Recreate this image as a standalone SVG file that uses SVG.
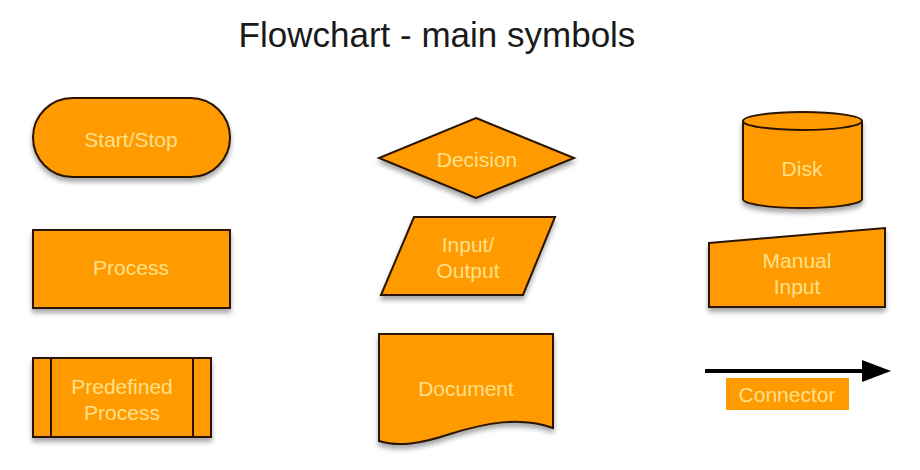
<svg xmlns="http://www.w3.org/2000/svg" width="920" height="470" viewBox="0 0 920 470">
<defs>
<filter id="sh" x="-10%" y="-10%" width="120%" height="130%">
<feDropShadow dx="0" dy="4" stdDeviation="2.5" flood-color="#000" flood-opacity="0.35"/>
</filter>
<marker id="ah" viewBox="0 0 10 10" refX="0" refY="5" markerWidth="29" markerHeight="22" markerUnits="userSpaceOnUse" orient="auto" preserveAspectRatio="none">
<path d="M0,0 L10,5 L0,10 Z" fill="#000"/>
</marker>
<style>
.s{fill:#ff9a00;stroke:#2a1300;stroke-width:2;filter:url(#sh)}
.l{fill:none;stroke:#2a1300;stroke-width:2}
.t{font-family:"Liberation Sans",Arial,sans-serif;font-size:21px;fill:#ffe08a;text-anchor:middle}
.title{font-family:"Liberation Sans",Arial,sans-serif;font-size:35px;fill:#1a1a1a;text-anchor:middle}
</style>
</defs>
<rect width="920" height="470" fill="#ffffff"/>
<text class="title" x="437" y="47">Flowchart - main symbols</text>
<g id="start-stop">
<rect class="s" x="33" y="98" width="197" height="79" rx="39.5"/>
<text class="t" x="131" y="147">Start/Stop</text>
</g>
<g id="process">
<rect class="s" x="33" y="230" width="197" height="78"/>
<text class="t" x="131" y="275">Process</text>
</g>
<g id="predefined-process">
<rect class="s" x="33" y="358" width="178" height="79"/>
<line class="l" x1="51" y1="358" x2="51" y2="437"/>
<line class="l" x1="193" y1="358" x2="193" y2="437"/>
<text class="t" x="122" y="394">Predefined</text>
<text class="t" x="122" y="420">Process</text>
</g>
<g id="decision">
<polygon class="s" points="476,118 574,158 476,198 379,158"/>
<text class="t" x="477" y="167">Decision</text>
</g>
<g id="input-output">
<polygon class="s" points="414,217 555,217 523,295 381,295"/>
<text class="t" x="468" y="252">Input/</text>
<text class="t" x="468" y="278">Output</text>
</g>
<g id="document">
<path class="s" d="M379,334 H553 V428 C520,416 485,423 450,434 C420,444 398,447 379,441 Z"/>
<text class="t" x="466" y="396">Document</text>
</g>
<g id="disk">
<path class="s" d="M743,121 A59.5,9 0 0 1 862,121 V199 A59.5,9 0 0 1 743,199 Z"/>
<path class="l" d="M743,121 A59.5,9 0 0 0 862,121"/>
<text class="t" x="802" y="176">Disk</text>
</g>
<g id="manual-input">
<polygon class="s" points="709,243 885,228 885,307 709,307"/>
<text class="t" x="797" y="268">Manual</text>
<text class="t" x="797" y="294">Input</text>
</g>
<g id="connectors">
<line x1="705" y1="371" x2="862" y2="371" stroke="#000" stroke-width="4" marker-end="url(#ah)"/>
</g>
<g id="connector-label">
<rect x="726" y="378" width="123" height="32" fill="#ff9a00"/>
<text class="t" x="787" y="402">Connector</text>
</g>
</svg>
